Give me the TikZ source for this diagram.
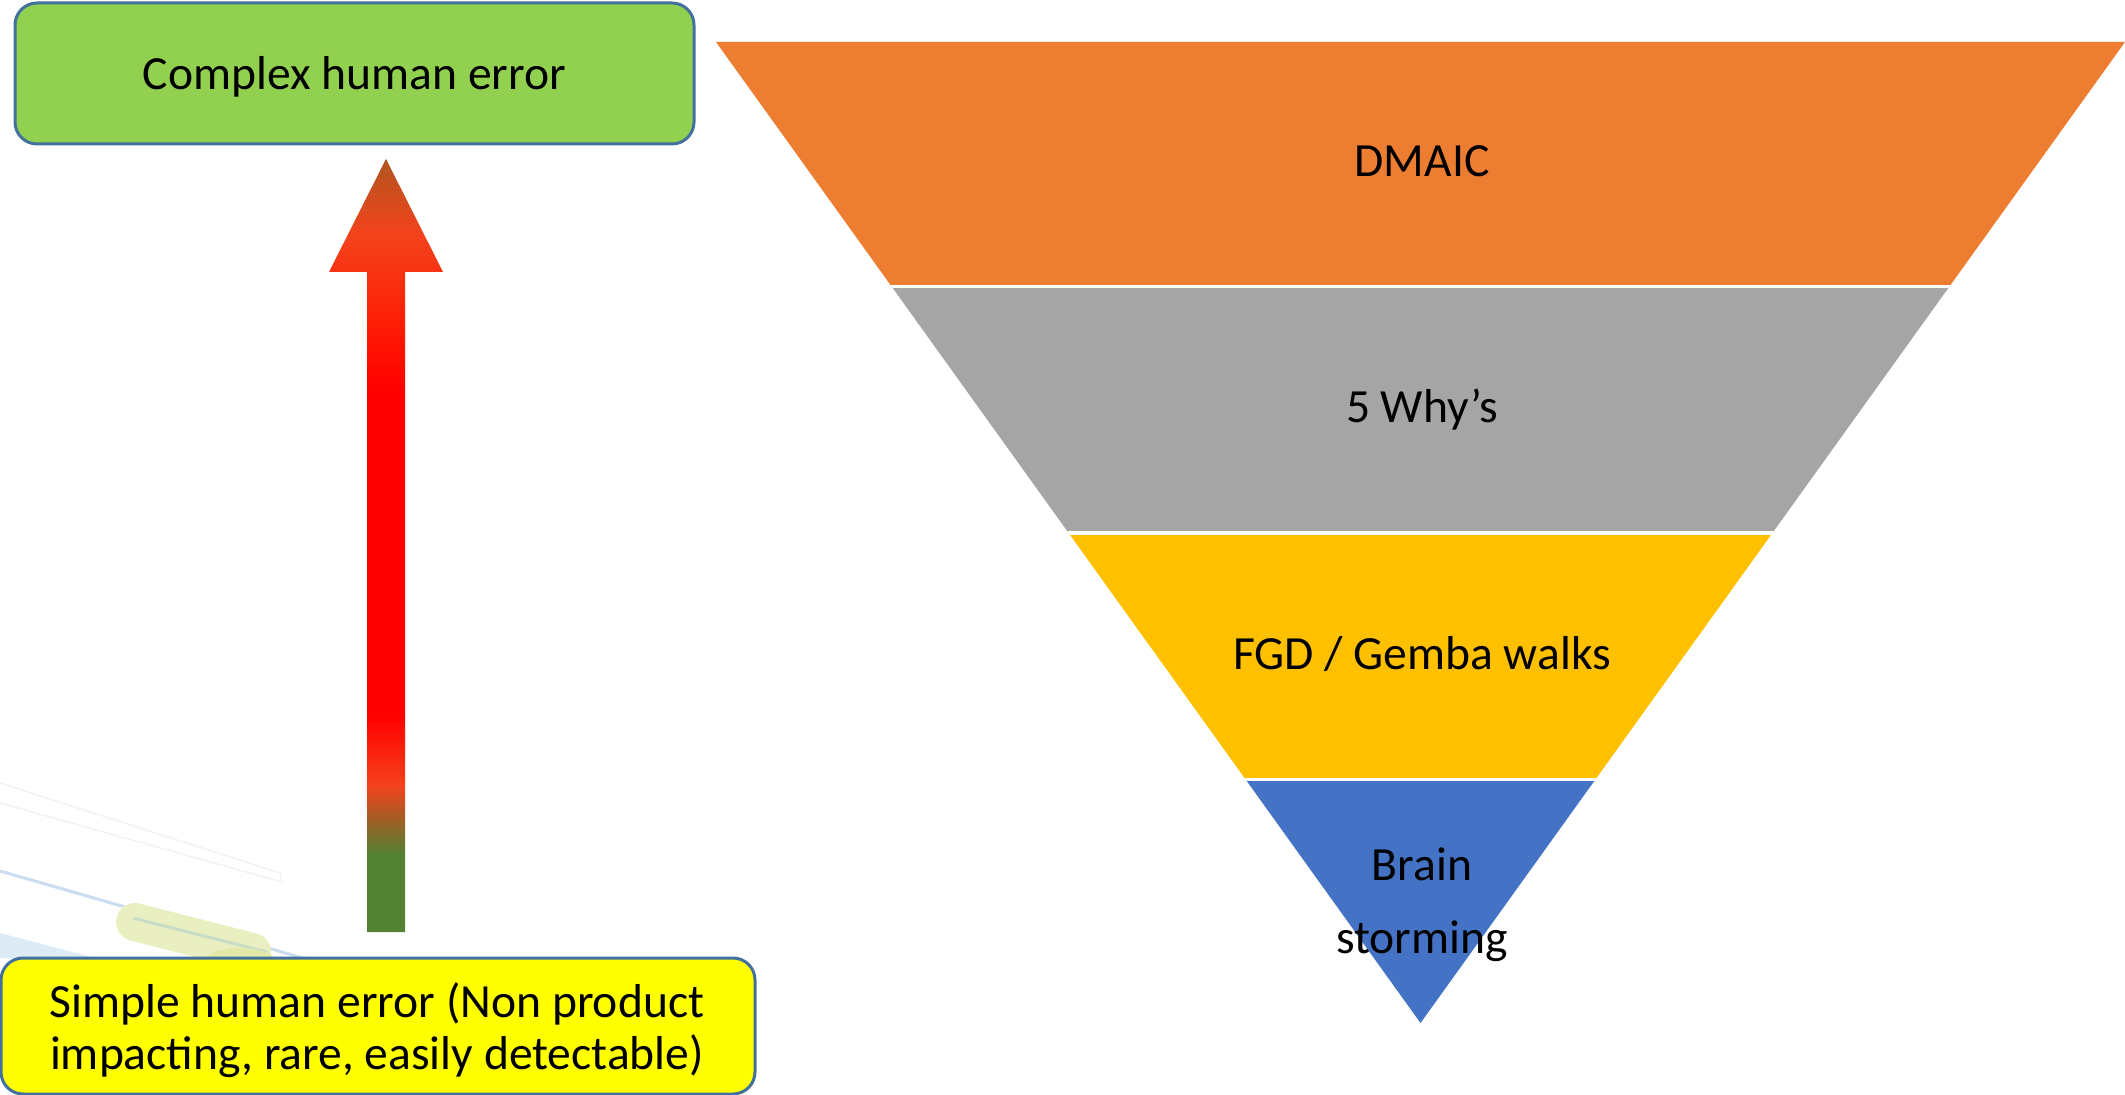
\documentclass[tikz,border=0pt]{standalone}
\usepackage{fontspec}
\setmainfont{Carlito}
\usetikzlibrary{calc}

% box colours
\definecolor{boxgreen}{HTML}{92D050}
\definecolor{boxyellow}{HTML}{FFFF00}
\definecolor{boxedge}{HTML}{41719C}
% funnel layers
\definecolor{layorange}{HTML}{ED7D31}
\definecolor{laygray}{HTML}{A5A5A5}
\definecolor{laygold}{HTML}{FFC000}
\definecolor{layblue}{HTML}{4472C4}
% faded backdrop art
\definecolor{artblue}{HTML}{DDEBF7}
\definecolor{artline}{HTML}{C9DCF0}
\definecolor{artyellow}{HTML}{E9EFC1}
\definecolor{artyellow2}{HTML}{E2E9A6}
\definecolor{artgreen}{HTML}{C7DDC6}
\definecolor{artfaint}{HTML}{F2F4F7}
% rising arrow gradient
\definecolor{arrgreen}{HTML}{548235}
\definecolor{arrbrown}{HTML}{A85C25}
\definecolor{arrorange}{HTML}{F5421C}
\definecolor{arrred}{HTML}{FF1A05}
\definecolor{arrtip}{HTML}{B0561F}

\pgfdeclareverticalshading{riseshade}{100bp}{%
  color(0bp)=(arrgreen); color(30bp)=(arrgreen); color(32.5bp)=(arrbrown);
  color(34.5bp)=(arrorange); color(39bp)=(red); color(60bp)=(red);
  color(64bp)=(arrred); color(70bp)=(arrorange); color(75bp)=(arrtip);
  color(100bp)=(arrtip)}

\begin{document}
\begin{tikzpicture}[x=0.5pt, y=-0.5pt,
  lbl/.style={font=\fontsize{23.8pt}{25pt}\selectfont, text=black, inner sep=0pt, anchor=base},
  boxframe/.style={draw=boxedge, line width=1.5pt, rounded corners=11pt, inner sep=0pt},
  sep/.style={white, line width=1.6pt}]
\useasboundingbox (0,0) rectangle (2125,1095);
\fill[white] (0,0) rectangle (2125,1095);

% faded backdrop picture, lower left
\begin{scope}
  \clip (0,760) rectangle (320,1095);
  \fill[artblue] (0,933) -- (95,958) -- (0,958) -- cycle;
  \draw[artfaint, line width=0.8pt] (0,783) -- (280,873) -- (282,882);
  \draw[artfaint, line width=0.8pt] (0,803) -- (282,882);
  \draw[artline, line width=1.5pt] (0,871) -- (320,963);
  \draw[artyellow, line width=19pt, line cap=round] (135,922) -- (252,952);
  \draw[artgreen, line width=1.5pt] (133,918) -- (267,952);
  \fill[artyellow2] (240,962) ellipse (36 and 14);
\end{scope}

% end boxes
\node[boxframe, fill=boxgreen, minimum width=339.5pt, minimum height=70.5pt]
  (complexbox) at (354.5,73.5) {};
\node[lbl] (complexlabel) at (354.5,90) {Complex human error};

\node[boxframe, fill=boxyellow, minimum width=377pt, minimum height=68pt]
  (simplebox) at (378,1026) {};
\node[lbl] (simpleone) at (377,1017) {Simple human error (Non product};
\node[lbl] (simpletwo) at (377,1069) {impacting, rare, easily detectable)};

% rising block arrow
\coordinate (arrowtail) at (386,932);
\coordinate (arrowtip) at (386,159);
\shade[shading=riseshade]
  ($(arrowtail)+(-19,0)$) -- ($(arrowtip)+(-19,113)$) -- ($(arrowtip)+(-57,113)$)
  -- (arrowtip) -- ($(arrowtip)+(57,113)$) -- ($(arrowtip)+(19,113)$)
  -- ($(arrowtail)+(19,0)$) -- cycle;

% inverted funnel
\coordinate (topleft) at (716,42);
\coordinate (topright) at (2125,42);
\coordinate (apex) at (1420.5,1023);
\begin{scope}
  \clip (topleft) -- (topright) -- (apex) -- cycle;
  \fill[layorange] (700,30) rectangle (2140,286.5);
  \fill[laygray] (700,286.5) rectangle (2140,533);
  \fill[laygold] (700,533) rectangle (2140,779.5);
  \fill[layblue] (700,779.5) rectangle (2140,1030);
  \draw[sep] (700,286.5) -- (2140,286.5);
  \draw[sep] (700,533) -- (2140,533);
  \draw[sep] (700,779.5) -- (2140,779.5);
\end{scope}

\node[lbl] (dmaic) at (1422,177) {DMAIC};
\node[lbl] (whys) at (1422,423) {5 Why’s};
\node[lbl] (fgd) at (1422,670) {FGD / Gemba walks};
\node[lbl] (brainone) at (1422,880) {Brain};
\node[lbl] (braintwo) at (1422,953) {storming};
\end{tikzpicture}
\end{document}
